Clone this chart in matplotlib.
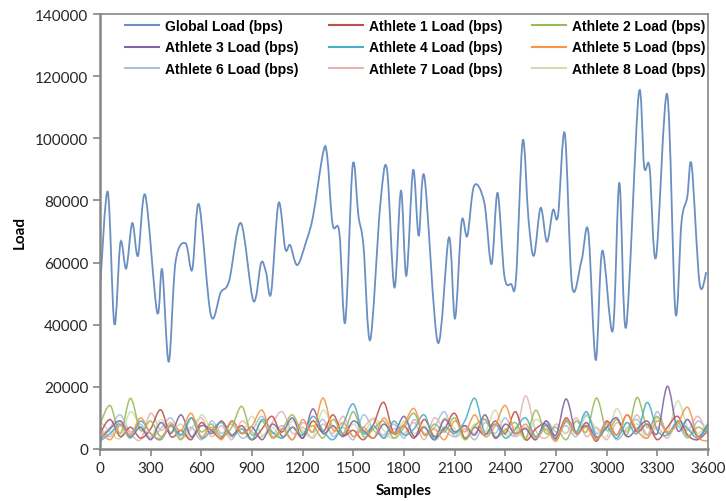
import numpy as np
from matplotlib import pyplot as plt
from matplotlib.path import Path
from matplotlib.patches import PathPatch
from matplotlib.lines import Line2D

# Global load (sample, load)
global_x = [0, 46, 85, 121, 155, 191, 225, 268, 338, 368, 407, 447, 507, 546, 586, 656, 715, 765,
            834, 908, 954, 983, 1013, 1057, 1097, 1126, 1168, 1222, 1262, 1321, 1345, 1377, 1417,
            1452, 1496, 1530, 1560, 1600, 1659, 1699, 1743, 1782, 1814, 1854, 1887, 1921, 2000,
            2066, 2102, 2141, 2175, 2215, 2275, 2318, 2354, 2394, 2434, 2463, 2503, 2537, 2569,
            2609, 2646, 2682, 2712, 2752, 2795, 2851, 2891, 2935, 2974, 3036, 3075, 3115, 3189,
            3222, 3254, 3292, 3358, 3407, 3443, 3477, 3503, 3550, 3590]
global_y = [51500, 82800, 40200, 66500, 58100, 72700, 62200, 81700, 44000, 57700, 28100, 60100, 66200,
            57700, 78700, 43200, 50400, 54200, 72700, 47700, 59900, 56900, 50200, 79100, 64400, 65600,
            59200, 67000, 75100, 95300, 94400, 72400, 69700, 40800, 91200, 75100, 65400, 35100, 78300,
            90100, 52000, 83100, 55800, 89800, 68600, 87600, 34300, 68100, 42000, 73100, 68600, 84700,
            79400, 59500, 82400, 55800, 53100, 54700, 99200, 74000, 62200, 77600, 66700, 76900, 75100,
            101600, 52600, 60600, 70000, 28700, 63800, 38100, 85600, 39200, 113900, 90800, 90600,
            61700, 114200, 44000, 73000, 81000, 91400, 53400, 56900]

# athletes, one value every 60 samples
athlete_x = list(range(0, 3601, 60))
athlete1 = [5000, 9500, 4000, 7000, 3500, 6500, 12600, 4000, 6000, 3000, 8500, 5000, 9000, 4500, 7500, 3000,
            6500, 10500, 4000, 7000, 3500, 9000, 5500, 11000, 4500, 6000, 3000, 8000, 15000, 5000, 7500,
            3500, 9500, 4000, 6500, 11500, 3500, 7000, 4500, 9000, 5000, 12000, 3000, 6500, 8000, 3500,
            10000, 5000, 7500, 2500, 9000, 4500, 11000, 5500, 8000, 3000, 7000, 10500, 4500, 3000, 6000]
athlete2 = [8000, 14000, 5000, 16300, 6000, 9000, 4000, 7500, 3000, 10000, 5500, 8000, 4000, 7000, 13700,
            4500, 9000, 3500, 6500, 11000, 5000, 7500, 3500, 9500, 5000, 12000, 4000, 6500, 9000, 3500,
            7000, 11500, 4500, 8000, 5500, 10000, 3000, 7500, 9500, 4000, 6000, 8500, 3500, 12500, 5000,
            7000, 3000, 9000, 5500, 16400, 6000, 9500, 4500, 16600, 7000, 10500, 5000, 8500, 4000, 7000, 5000]
athlete3 = [3000, 6500, 9000, 4000, 7000, 3000, 8500, 5000, 11000, 4000, 7500, 6000, 3500, 9000, 5000, 7000,
            3000, 8000, 5500, 10000, 3500, 12900, 5000, 7500, 4000, 9000, 6000, 3500, 8000, 5000, 10500,
            4000, 7000, 3000, 9500, 5500, 7500, 4500, 11000, 3500, 8000, 5000, 6500, 3000, 9000, 4500,
            16100, 5000, 8500, 3500, 7000, 10000, 4000, 6500, 9000, 5000, 20200, 6000, 9500, 4000, 8000]
athlete4 = [2500, 5000, 8000, 3500, 9000, 5000, 3000, 7500, 4500, 10000, 3500, 6000, 8500, 4000, 6500, 3000,
            9500, 5500, 3500, 7000, 4500, 10500, 6000, 3000, 8000, 14500, 5000, 7500, 3500, 9000, 4500,
            6500, 11000, 3000, 7000, 5000, 9000, 16300, 5000, 8000, 3500, 6500, 10000, 4000, 7500, 3000,
            9000, 5500, 12000, 4000, 7000, 3500, 8500, 5000, 15000, 6000, 4500, 9000, 6500, 3500, 7500]
athlete5 = [6000, 3000, 7500, 4500, 10000, 5000, 3500, 8000, 6000, 11500, 4000, 7000, 3000, 9000, 5000, 7500,
            12500, 4000, 6500, 3000, 9500, 5500, 16400, 6000, 8500, 4000, 7000, 3500, 10000, 5000, 8000,
            13000, 4500, 6500, 3000, 9000, 5500, 11000, 4000, 7500, 14000, 5000, 8000, 3500, 6500, 2500,
            9500, 5000, 7000, 3000, 8500, 4500, 11000, 6000, 3500, 9000, 5500, 8000, 13400, 4000, 2500]
athlete6 = [4000, 7000, 11000, 5500, 8000, 3500, 6500, 10000, 4500, 7000, 3000, 9000, 5000, 8000, 3500, 6000,
            10500, 5000, 7500, 3000, 8500, 5500, 9500, 4000, 7000, 3000, 11000, 6000, 4500, 8000, 3500,
            9500, 5000, 7000, 12000, 4000, 6500, 3000, 8500, 5000, 10000, 4000, 7000, 3000, 9000, 5500,
            7500, 4000, 11000, 5000, 8000, 3000, 6500, 9500, 4500, 12000, 5000, 7500, 3500, 9000, 5500]
athlete7 = [7000, 4000, 9000, 5000, 3000, 11500, 6000, 8500, 3500, 6500, 10000, 4000, 7500, 3000, 9000, 5500,
            4000, 8500, 12000, 5000, 7000, 3500, 8000, 5000, 10500, 4000, 7000, 9500, 3500, 6500, 5000,
            8500, 3000, 10000, 6000, 4000, 7500, 5000, 9500, 3500, 6500, 4500, 17100, 6000, 3500, 8000,
            5000, 10000, 4000, 7000, 3000, 8500, 5500, 11000, 4500, 7000, 3500, 9000, 6000, 10500, 4500]
athlete8 = [9000, 5500, 3500, 12000, 7000, 4000, 9500, 5500, 8000, 3500, 11000, 6000, 4000, 8500, 5000, 10500,
            4500, 7000, 3500, 9000, 6000, 4000, 12500, 7000, 4500, 8000, 5000, 10000, 6000, 3500, 9000,
            5000, 7500, 4000, 10000, 6500, 3500, 8000, 5500, 12500, 4500, 7000, 3000, 9500, 6000, 4000,
            8500, 5000, 10500, 6500, 4000, 13000, 6000, 8000, 3500, 10000, 5500, 15500, 7000, 5000, 8500]

labels = ['Global Load (bps)'] + ['Athlete %d Load (bps)' % i for i in range(1, 9)]
colors = ['#6a8fc2', '#c0504d', '#9bbb59', '#8064a2', '#4bacc6', '#f79646', '#a7bfdc', '#e6b4b3', '#cfe0b0']


def smooth_path(xs, ys):
    # excel-like smoothed line: catmull-rom segments as cubic beziers
    p = np.column_stack([xs, ys]).astype(float)
    p = np.vstack([p[0], p, p[-1]])
    verts = [p[1]]
    codes = [Path.MOVETO]
    for i in range(1, len(p) - 2):
        c1 = p[i] + (p[i + 1] - p[i - 1]) / 6
        c2 = p[i + 1] - (p[i + 2] - p[i]) / 6
        verts += [c1, c2, p[i + 1]]
        codes += [Path.CURVE4] * 3
    return Path(verts, codes)


fig = plt.figure(figsize=(7.26, 5.02), dpi=100)
ax = fig.add_axes([100 / 726, 52 / 502, 608 / 726, 435 / 502])

athletes = [athlete1, athlete2, athlete3, athlete4, athlete5, athlete6, athlete7, athlete8]
for i in [5, 6, 7, 0, 1, 2, 3, 4]:
    ax.add_patch(PathPatch(smooth_path(athlete_x, athletes[i]), fill=False,
                           edgecolor=colors[i + 1], lw=1.1, alpha=0.9))
ax.add_patch(PathPatch(smooth_path(global_x, global_y), fill=False, edgecolor=colors[0], lw=1.3))

ax.set_xlim(0, 3600)
ax.set_ylim(0, 140000)
ax.set_xticks(range(0, 3601, 300))
ax.set_yticks(range(0, 140001, 20000))
ax.tick_params(labelsize=11, colors='#868686', labelcolor='#262626', length=5, width=1.2)
for lab in ax.get_xticklabels() + ax.get_yticklabels():
    lab.set_family('Lato')
for s in ax.spines.values():
    s.set_color('#868686')
    s.set_linewidth(1.2)
ax.spines['left'].set_linewidth(1.8)
ax.spines['bottom'].set_linewidth(1.8)

ax.set_xlabel('Samples', family='Lato', fontweight='bold', fontsize=11, labelpad=6)
ax.set_ylabel('Load', family='Lato', fontweight='bold', fontsize=11, labelpad=6)

# legend rows go across, matplotlib fills columns, so reorder
handles = [Line2D([], [], color=c, lw=1.5) for c in colors]
order = [0, 3, 6, 1, 4, 7, 2, 5, 8]
ax.legend([handles[k] for k in order], [labels[k] for k in order], ncol=3, loc='upper left',
          bbox_to_anchor=(0.03, 1.005), frameon=False, borderpad=0,
          prop={'family': 'Liberation Sans', 'weight': 'bold', 'size': 10},
          handlelength=2.45, handletextpad=0.43, columnspacing=2.15, labelspacing=0.55)

plt.savefig('out.png')
